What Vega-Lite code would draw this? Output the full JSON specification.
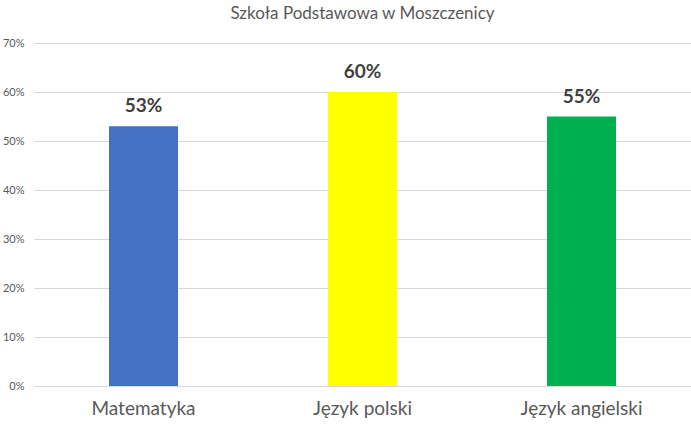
{
  "$schema": "https://vega.github.io/schema/vega-lite/v6.json",
  "autosize": {"type": "none"},
  "padding": {"left": 34, "top": 43, "right": 0, "bottom": 46},
  "width": 657,
  "height": 343,
  "background": "white",
  "title": {
    "text": "Szkoła Podstawowa w Moszczenicy",
    "font": "Lato",
    "fontSize": 17,
    "fontWeight": "normal",
    "color": "#595959",
    "offset": 14
  },
  "data": {
    "values": [
      {"subject": "Matematyka", "score": 0.53, "color": "#4472C4"},
      {"subject": "Język polski", "score": 0.60, "color": "#FFFF00"},
      {"subject": "Język angielski", "score": 0.55, "color": "#00B050"}
    ]
  },
  "config": {
    "view": {"stroke": null},
    "font": "Lato"
  },
  "encoding": {
    "x": {
      "field": "subject",
      "type": "nominal",
      "sort": null,
      "title": null,
      "scale": {"paddingInner": 0.685, "paddingOuter": 0.3425},
      "axis": {
        "labelAngle": 0,
        "labelFontSize": 19,
        "labelColor": "#595959",
        "labelPadding": 13,
        "ticks": false,
        "domain": false
      }
    },
    "y": {
      "field": "score",
      "type": "quantitative",
      "title": null,
      "scale": {"domain": [0, 0.7], "nice": false},
      "axis": {
        "format": ".0%",
        "values": [0, 0.1, 0.2, 0.3, 0.4, 0.5, 0.6, 0.7],
        "labelOverlap": false,
        "labelFontSize": 11,
        "labelColor": "#595959",
        "labelPadding": 10,
        "ticks": false,
        "domain": false,
        "gridColor": "#d9d9d9"
      }
    }
  },
  "layer": [
    {
      "mark": {"type": "bar"},
      "encoding": {
        "color": {"field": "color", "type": "nominal", "scale": null}
      }
    },
    {
      "mark": {
        "type": "text",
        "baseline": "bottom",
        "dy": -10,
        "fontSize": 19,
        "fontWeight": "bold",
        "color": "#404040"
      },
      "encoding": {
        "text": {"field": "score", "type": "quantitative", "format": ".0%"}
      }
    }
  ]
}
